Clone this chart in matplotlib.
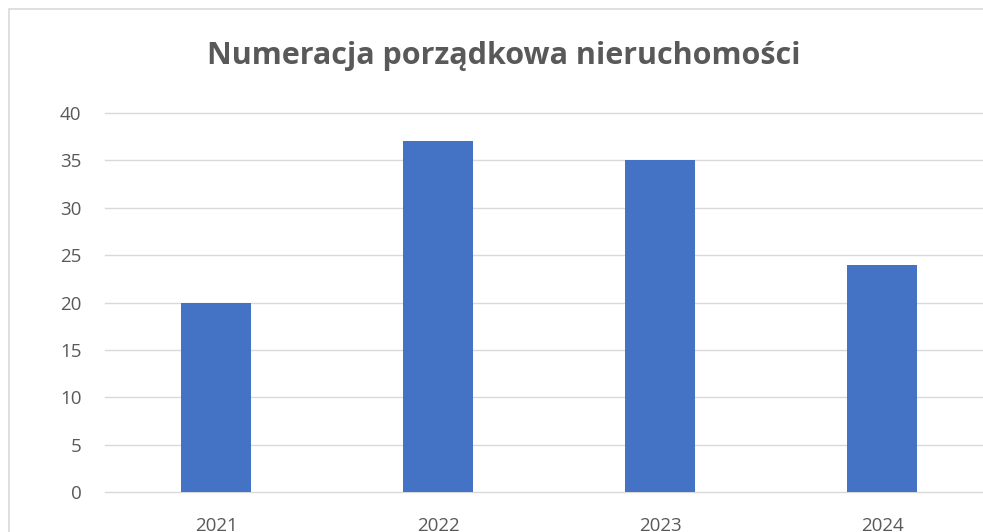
import matplotlib
matplotlib.use("Agg")
import matplotlib.pyplot as plt
from matplotlib.patches import Rectangle

years = ["2021", "2022", "2023", "2024"]
values = [20, 37, 35, 24]
yticks = [0, 5, 10, 15, 20, 25, 30, 35, 40]
title = "Numeracja porządkowa nieruchomości"

W, H = 983, 532
fig = plt.figure(figsize=(W / 100, H / 100), dpi=100)
fig.patch.set_facecolor("white")

# chart border (cropped at right and bottom)
fig.patches.append(Rectangle((9 / W, -0.1), 1.2, (H - 9) / H + 0.1, transform=fig.transFigure,
                             fill=False, edgecolor="#D9D9D9", linewidth=1.2))

left, right = 105 / W, 993 / W
bottom, top = (H - 492) / H, (H - 113) / H
ax = fig.add_axes([left, bottom, right - left, top - bottom])

x = list(range(len(years)))
ax.bar(x, values, width=0.315, color="#4472C4", zorder=3)
ax.set_xlim(-0.5, len(years) - 0.5)
ax.set_ylim(0, 40)
ax.set_yticks(yticks)
ax.set_xticks(x)
ax.set_xticklabels(years)
ax.grid(axis="y", color="#D9D9D9", linewidth=1.0, zorder=0)
for gl in ax.yaxis.get_gridlines():
    gl.set_clip_on(False)
for s in ax.spines.values():
    s.set_visible(False)
ax.tick_params(axis="both", length=0, labelsize=13.5, labelcolor="#595959")
ax.tick_params(axis="y", pad=17)
ax.tick_params(axis="x", pad=18)
for lbl in ax.get_xticklabels() + ax.get_yticklabels():
    lbl.set_fontfamily("Open Sans")

fig.text(504 / W, 1 - 56 / H, title, ha="center", va="center", fontsize=22,
         fontweight="bold", color="#595959", family="Open Sans")

fig.savefig("out.png", dpi=100)
